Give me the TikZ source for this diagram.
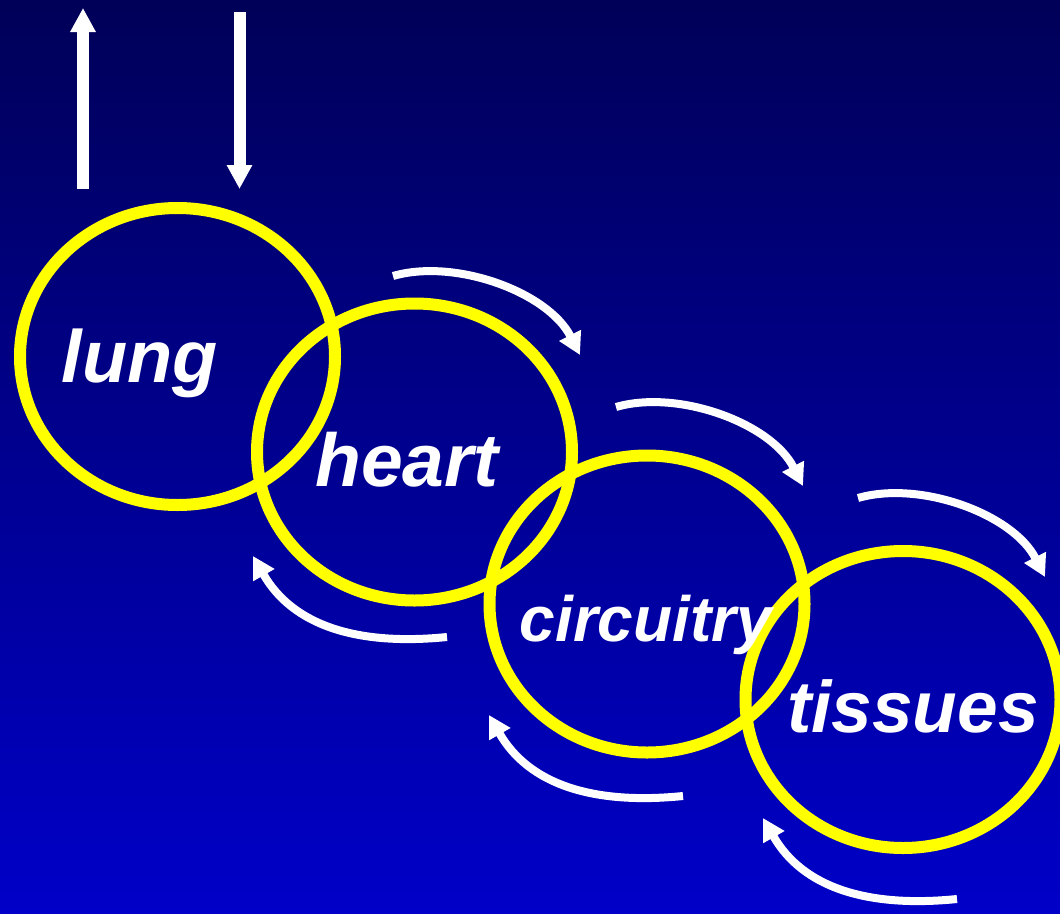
\documentclass[tikz,border=0pt]{standalone}
\usepackage{fontspec}
\setmainfont{Liberation Sans}
\usetikzlibrary{arrows.meta,calc}
\definecolor{bgtop}{RGB}{0,0,88}
\definecolor{bgbot}{RGB}{0,0,200}
\definecolor{ringyellow}{RGB}{255,255,0}
\begin{document}
\begin{tikzpicture}[x=1pt,y=-1pt,
  ring/.style={draw=ringyellow,line width=12pt},
  lbl/.style={text=white,font=\bfseries\itshape,inner sep=0pt,anchor=base},
  vert/.style={draw=white,line width=12pt,-{Triangle[width=24pt,length=24pt]}},
  flow/.style={draw=white,line width=8pt,-{Triangle[width=23pt,length=22pt]}}]
\shade[top color=bgtop,bottom color=bgbot] (0,0) rectangle (1060,913);
\useasboundingbox (0,0) rectangle (1060,913);

% ring centres
\coordinate (lungc) at (177.5,356.5);
\coordinate (heartc) at (414.5,452);
\coordinate (circc) at (647,604);
\coordinate (tissc) at (903,699.5);

\foreach \c in {lungc,heartc,circc,tissc}
  \draw[ring] (\c) ellipse [x radius=157.5, y radius=148.5];

% labels
\node[lbl,font=\bfseries\itshape\fontsize{74}{80}\selectfont] (lung) at (140,382) {lung};
\node[lbl,font=\bfseries\itshape\fontsize{75}{80}\selectfont] (heart) at (407,486) {heart};
\node[lbl,font=\bfseries\itshape\fontsize{64}{70}\selectfont] (circuitry) at (646,641) {circuitry};
\node[lbl,font=\bfseries\itshape\fontsize{73}{80}\selectfont] (tissues) at (913,732) {tissues};

% vertical arrows above the lung
\coordinate (outS) at (83,189);
\coordinate (outE) at (83,8);
\coordinate (inS) at (239.5,12);
\coordinate (inE) at (239.5,189);
\draw[vert] (outS) -- (outE);
\draw[vert] (inS) -- (inE);

% forward (downhill) arrows
\foreach \n/\sx/\sy in {1/393/276, 2/616/407, 3/858/498}{
  \coordinate (f\n s) at (\sx,\sy);
  \coordinate (f\n e) at ($(f\n s)+(187,79)$);
  \draw[flow] (f\n s) .. controls ($(f\n s)+(62,-18)$) and ($(f\n e)+(-32,-63)$) .. (f\n e);
}

% return (uphill) arrows
\foreach \n/\sx/\sy in {1/447/637, 2/683/796, 3/957/899}{
  \coordinate (r\n s) at (\sx,\sy);
  \coordinate (r\n e) at ($(r\n s)+(-194,-81)$);
  \draw[flow] (r\n s) .. controls ($(r\n s)+(-89,9)$) and ($(r\n e)+(40,70)$) .. (r\n e);
}
\end{tikzpicture}
\end{document}
